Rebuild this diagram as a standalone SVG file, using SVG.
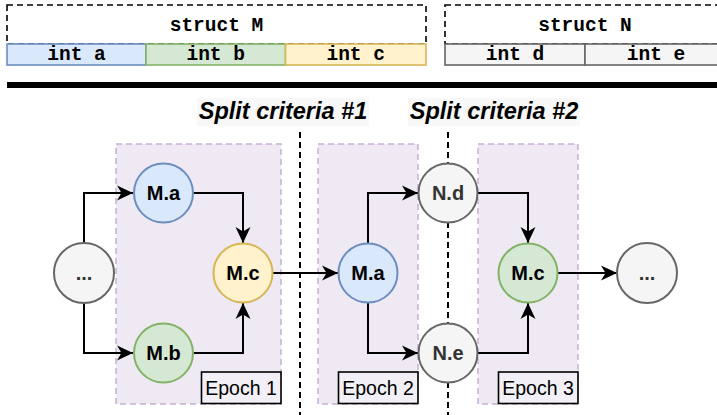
<svg xmlns="http://www.w3.org/2000/svg" width="717" height="415" viewBox="0 0 717 415">
<defs>
<marker id="arr" markerUnits="userSpaceOnUse" markerWidth="17" markerHeight="17" viewBox="0 0 17 17" refX="16" refY="8.5" orient="auto">
<path d="M0,1 L16,8.5 L0,16 L4.5,8.5 Z" fill="#000"/>
</marker>
<style>
.hdr{fill:#fff;stroke:#000;stroke-width:1.6;stroke-dasharray:6 4}
.cell{stroke-width:1.6}
.mono{font-family:"Liberation Mono","Courier New",monospace;font-weight:bold;font-size:19.5px;text-anchor:middle;fill:#000}
.epoch{fill:#efe9f3;stroke:#c6b0d2;stroke-width:1.5;stroke-dasharray:6 4}
.elab{fill:#f3eff6;stroke:#000;stroke-width:1.6}
.etxt{font-family:"Liberation Sans",Arial,sans-serif;font-size:19.5px;text-anchor:middle;fill:#000}
.split{font-family:"Liberation Sans",Arial,sans-serif;font-size:23.5px;font-weight:bold;font-style:italic;text-anchor:middle;fill:#000}
.vline{stroke:#000;stroke-width:2;stroke-dasharray:6 4;fill:none}
.circ{stroke-width:2}
.lbl{font-family:"Liberation Sans",Arial,sans-serif;font-size:20px;font-weight:bold;text-anchor:middle;fill:#000}
.blue{fill:#dae8fc;stroke:#6c8ebf}
.green{fill:#d5e8d4;stroke:#82b366}
.yellow{fill:#fff2cc;stroke:#d6b656}
.gray{fill:#f5f5f5;stroke:#666666}
.edge{fill:none;stroke:#000;stroke-width:2;marker-end:url(#arr)}
</style>
</defs>

<g id="structM">
<rect class="hdr" x="7" y="5" width="419" height="39"/>
<text class="mono" x="216.5" y="31">struct M</text>
<rect class="cell blue" x="7" y="44" width="139" height="21"/>
<text class="mono" x="76.5" y="60">int a</text>
<rect class="cell green" x="146" y="44" width="139.5" height="21"/>
<text class="mono" x="215.7" y="60">int b</text>
<rect class="cell yellow" x="285.5" y="44" width="140.5" height="21"/>
<text class="mono" x="355.7" y="60">int c</text>
</g>

<g id="structN">
<rect class="hdr" x="445" y="5" width="282" height="39"/>
<text class="mono" x="585" y="31">struct N</text>
<rect class="cell gray" x="445" y="44" width="140" height="21"/>
<text class="mono" x="515" y="60">int d</text>
<rect class="cell gray" x="585" y="44" width="142" height="21"/>
<text class="mono" x="656" y="60">int e</text>
</g>

<rect id="divider" x="7" y="82" width="712" height="6" fill="#000"/>

<g id="epoch1">
<rect class="epoch" x="116" y="144" width="165" height="260"/>
<rect class="elab" x="201.5" y="372" width="79.5" height="31.5"/>
<text class="etxt" x="241" y="395">Epoch 1</text>
</g>
<g id="epoch2">
<rect class="epoch" x="318" y="144" width="100" height="260"/>
<rect class="elab" x="338.5" y="372" width="79.5" height="31.5"/>
<text class="etxt" x="378" y="395">Epoch 2</text>
</g>
<g id="epoch3">
<rect class="epoch" x="478" y="144" width="100" height="260"/>
<rect class="elab" x="498.5" y="372" width="79.5" height="31.5"/>
<text class="etxt" x="538" y="395">Epoch 3</text>
</g>

<g id="split1">
<rect x="197" y="98" width="172" height="28" fill="#f8f8f8"/>
<text class="split" x="283" y="119">Split criteria #1</text>
<line class="vline" x1="300" y1="132" x2="300" y2="415"/>
</g>
<g id="split2">
<rect x="408" y="98" width="172" height="28" fill="#f8f8f8"/>
<text class="split" x="494" y="119">Split criteria #2</text>
<line class="vline" x1="448" y1="132" x2="448" y2="415"/>
</g>

<g id="connectors">
<path class="edge" d="M84,243 V193 H133"/>
<path class="edge" d="M84,303 V353 H133"/>
<path class="edge" d="M193.5,193 H243 V243"/>
<path class="edge" d="M193.5,353 H243 V303"/>
<path class="edge" d="M273,273 H338"/>
<path class="edge" d="M368,243 V193 H418"/>
<path class="edge" d="M368,303 V353 H418"/>
<path class="edge" d="M478,193 H528 V243"/>
<path class="edge" d="M478,353 H528 V303"/>
<path class="edge" d="M558,273 H617"/>
</g>

<g id="start"><circle class="circ gray" cx="84" cy="273" r="30"/><text class="lbl" x="84" y="280" style="fill:#333">...</text></g>
<g id="Ma1"><circle class="circ blue" cx="163.5" cy="193" r="29.5"/><text class="lbl" x="163.5" y="200">M.a</text></g>
<g id="Mb1"><circle class="circ green" cx="163.5" cy="353" r="29.5"/><text class="lbl" x="163.5" y="360">M.b</text></g>
<g id="Mc1"><circle class="circ yellow" cx="243" cy="273" r="29.5"/><text class="lbl" x="243" y="280">M.c</text></g>
<g id="Ma2"><circle class="circ blue" cx="368" cy="273" r="29.5"/><text class="lbl" x="368" y="280">M.a</text></g>
<g id="Nd"><circle class="circ gray" cx="448" cy="193" r="29.5"/><text class="lbl" x="448" y="200" style="fill:#333">N.d</text></g>
<g id="Ne"><circle class="circ gray" cx="448" cy="353" r="29.5"/><text class="lbl" x="448" y="360" style="fill:#333">N.e</text></g>
<g id="Mc2"><circle class="circ green" cx="528" cy="273" r="29.5"/><text class="lbl" x="528" y="280">M.c</text></g>
<g id="end"><circle class="circ gray" cx="647" cy="273" r="30"/><text class="lbl" x="647" y="280" style="fill:#333">...</text></g>
</svg>
